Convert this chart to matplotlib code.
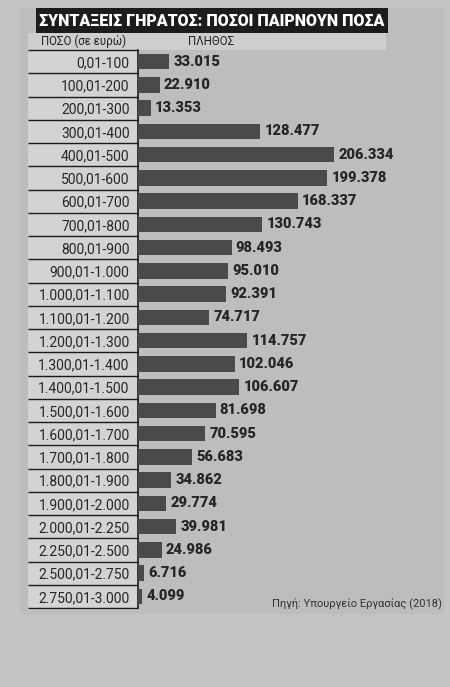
import matplotlib
matplotlib.use("Agg")
import matplotlib.pyplot as plt
from matplotlib.patches import Rectangle
import matplotlib.transforms as mtransforms

categories = ["0,01-100", "100,01-200", "200,01-300", "300,01-400", "400,01-500",
              "500,01-600", "600,01-700", "700,01-800", "800,01-900", "900,01-1.000",
              "1.000,01-1.100", "1.100,01-1.200", "1.200,01-1.300", "1.300,01-1.400",
              "1.400,01-1.500", "1.500,01-1.600", "1.600,01-1.700", "1.700,01-1.800",
              "1.800,01-1.900", "1.900,01-2.000", "2.000,01-2.250", "2.250,01-2.500",
              "2.500,01-2.750", "2.750,01-3.000"]
values = [33015, 22910, 13353, 128477, 206334, 199378, 168337, 130743, 98493, 95010,
          92391, 74717, 114757, 102046, 106607, 81698, 70595, 56683, 34862, 29774,
          39981, 24986, 6716, 4099]
value_labels = ["33.015", "22.910", "13.353", "128.477", "206.334", "199.378", "168.337",
                "130.743", "98.493", "95.010", "92.391", "74.717", "114.757", "102.046",
                "106.607", "81.698", "70.595", "56.683", "34.862", "29.774", "39.981",
                "24.986", "6.716", "4.099"]
title = "ΣΥΝΤΑΞΕΙΣ ΓΗΡΑΤΟΣ: ΠΟΣΟΙ ΠΑΙΡΝΟΥΝ ΠΟΣΑ"
col1_header = "ΠΟΣΟ (σε ευρώ)"
col2_header = "ΠΛΗΘΟΣ"
source = "Πηγή: Υπουργείο Εργασίας (2018)"

W, H = 450, 687
def fx(x): return x / W
def fy(y): return 1 - y / H

bold_font = ["Roboto", "DejaVu Sans"]
regular = ["Roboto", "DejaVu Sans"]

fig = plt.figure(figsize=(4.5, 6.87), dpi=100, facecolor="#c6c4c2")

# chart panel background
fig.patches.append(Rectangle((fx(20), fy(614)), fx(444) - fx(20), fy(8) - fy(614),
                             transform=fig.transFigure, facecolor="#bebdbc",
                             edgecolor="none", zorder=0))
# table column background
fig.patches.append(Rectangle((fx(28), fy(610)), fx(138) - fx(28), fy(34) - fy(610),
                             transform=fig.transFigure, facecolor="#d4d3d1",
                             edgecolor="none", zorder=1))
# header band
fig.patches.append(Rectangle((fx(28), fy(50)), fx(386) - fx(28), fy(33) - fy(50),
                             transform=fig.transFigure, facecolor="#cfcecc",
                             edgecolor="none", zorder=1))
# title bar
fig.patches.append(Rectangle((fx(36), fy(33)), fx(388) - fx(36), fy(8) - fy(33),
                             transform=fig.transFigure, facecolor="#1c1c1c",
                             edgecolor="none", zorder=2))
fig.text(fx(212), fy(21), title, color="white", fontsize=11.5, fontweight="heavy",
         family=bold_font, ha="center", va="center", zorder=3)
fig.text(fx(41), fy(41.5), col1_header, color="#222222", fontsize=8.3,
         family=regular, ha="left", va="center", zorder=3)
fig.text(fx(188), fy(41.5), col2_header, color="#222222", fontsize=8.3,
         family=regular, ha="left", va="center", zorder=3)
fig.text(fx(442), fy(603), source, color="#333333", fontsize=8,
         family=regular, ha="right", va="center", zorder=3)

ax = fig.add_axes([fx(138), fy(608), fx(440) - fx(138), fy(50) - fy(608)])
ax.set_facecolor("none")
ax.set_zorder(5)
n = len(categories)
ypos = list(range(n))
ax.barh(ypos, values, height=0.66, color="#4b4a49", zorder=3)
ax.set_ylim(n - 0.5, -0.5)
ax.set_xlim(0, 318000)
for y, v, lab in zip(ypos, values, value_labels):
    ax.text(v + 4500, y, lab, ha="left", va="center", fontsize=10.5,
            fontweight="heavy", family=bold_font, color="#262626", zorder=4)
ax.set_yticks(ypos)
ax.set_yticklabels(categories, fontsize=10, family=regular, color="#262626")
ax.tick_params(axis="y", length=0, pad=6)
ax.set_xticks([])
for s in ["top", "right", "bottom"]:
    ax.spines[s].set_visible(False)
ax.spines["left"].set_color("#1a1a1a")
ax.spines["left"].set_linewidth(1.2)

# row separators in the table column
trans = mtransforms.blended_transform_factory(ax.transAxes, ax.transData)
left_frac = -(138 - 28) / (440 - 138)
seps = [y + 0.5 for y in ypos]
ax.hlines([-0.5] + seps, left_frac, 0, transform=trans, colors="#1a1a1a",
          linewidth=1.0, clip_on=False, zorder=6)

fig.savefig("out.png", dpi=100, facecolor=fig.get_facecolor())
